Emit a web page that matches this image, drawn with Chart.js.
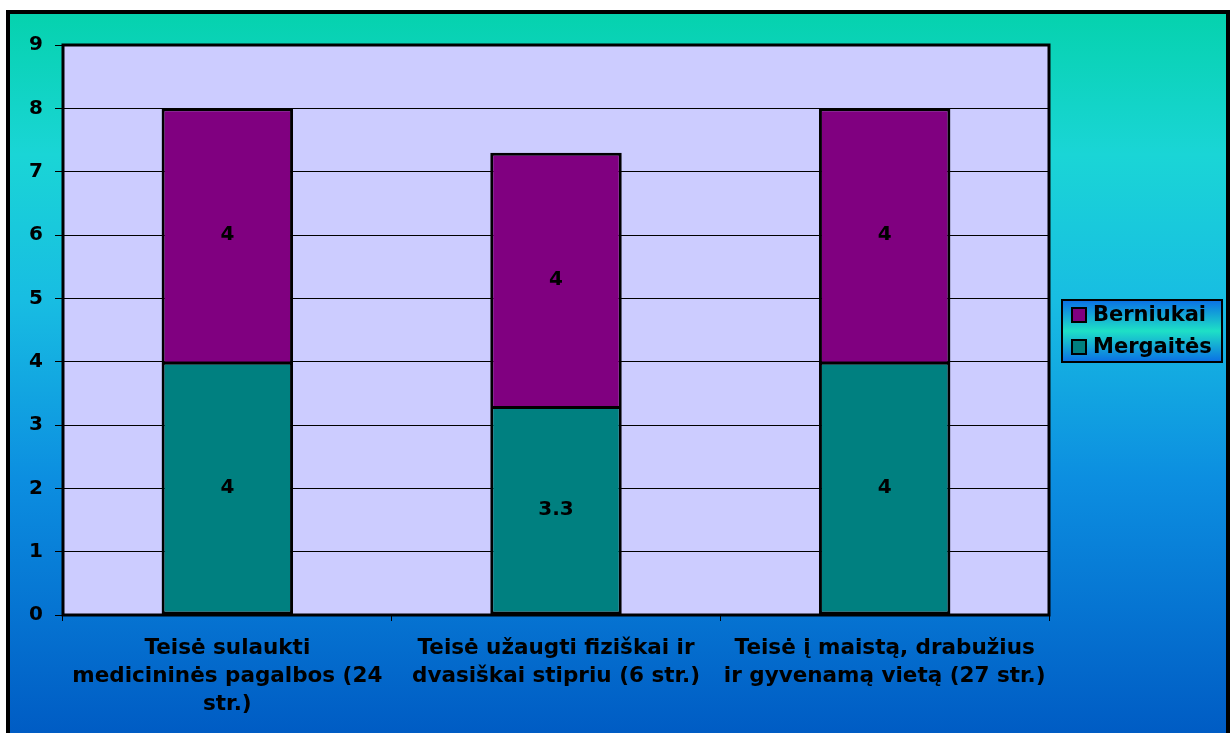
<!DOCTYPE html>
<html lang="lt">
<head>
    <meta charset="UTF-8">
    <title>Teisės</title>
    <script src="https://cdn.jsdelivr.net/npm/chart.js"></script>
    <style>
        html, body { margin: 0; padding: 0; background: #fff; }
        #wrap { position: relative; width: 1232px; height: 733px; }
    </style>
</head>
<body>
    <div id="wrap">
        <canvas id="chart" width="1232" height="733"></canvas>
    </div>

    <script>
        // duomenys
        const categories = [
            ['Teisė sulaukti', 'medicininės pagalbos (24', 'str.)'],
            ['Teisė užaugti fiziškai ir', 'dvasiškai stipriu (6 str.)'],
            ['Teisė į maistą, drabužius', 'ir gyvenamą vietą (27 str.)']
        ];
        const mergaites = [4, 3.3, 4];
        const berniukai = [4, 4, 4];
        const yTicks = [0, 1, 2, 3, 4, 5, 6, 7, 8, 9];

        const FONT = '"DejaVu Sans", sans-serif';

        // fonas, ploto fonas, rėmeliai
        const backgroundPlugin = {
            id: 'bg',
            beforeDraw(chart) {
                const ctx = chart.ctx;
                const a = chart.chartArea;
                ctx.save();
                ctx.fillStyle = '#fff';
                ctx.fillRect(0, 0, chart.width, chart.height);
                const g = ctx.createLinearGradient(0, 10, 0, 733);
                g.addColorStop(0, '#05D2AD');
                g.addColorStop(0.2, '#1AD5D6');
                g.addColorStop(0.4, '#18BDE2');
                g.addColorStop(0.65, '#0C8EE0');
                g.addColorStop(1, '#005CC4');
                ctx.fillStyle = g;
                ctx.fillRect(8, 11, 1220, 730);
                ctx.lineWidth = 4;
                ctx.strokeStyle = '#000';
                ctx.strokeRect(8, 12, 1220, 730);
                ctx.fillStyle = '#CCCCFF';
                ctx.fillRect(a.left, a.top, a.right - a.left, a.bottom - a.top);
                ctx.restore();
            },
            afterDatasetsDraw(chart) {
                const ctx = chart.ctx;
                const a = chart.chartArea;
                ctx.save();
                ctx.lineWidth = 3;
                ctx.strokeStyle = '#000';
                ctx.strokeRect(a.left, a.top, a.right - a.left, a.bottom - a.top);

                // reikšmės stulpelių viduryje
                ctx.font = 'bold 20px ' + FONT;
                ctx.fillStyle = '#000';
                ctx.textAlign = 'center';
                ctx.textBaseline = 'middle';
                chart.data.datasets.forEach((ds, i) => {
                    chart.getDatasetMeta(i).data.forEach((bar, j) => {
                        const y = (bar.y + bar.base) / 2;
                        ctx.fillText(String(ds.data[j]), bar.x, y);
                    });
                });

                // legenda
                const lx = 1062, ly = 300, lw = 160, lh = 62;
                const lg = ctx.createLinearGradient(0, ly, 0, ly + lh);
                lg.addColorStop(0, '#0A6FE6');
                lg.addColorStop(0.5, '#1EE0C6');
                lg.addColorStop(1, '#0A6FE6');
                ctx.fillStyle = lg;
                ctx.fillRect(lx, ly, lw, lh);
                ctx.lineWidth = 2;
                ctx.strokeStyle = '#000';
                ctx.strokeRect(lx, ly, lw, lh);
                const items = [chart.data.datasets[1], chart.data.datasets[0]];
                ctx.textAlign = 'left';
                items.forEach((ds, k) => {
                    const cy = ly + 15 + k * 32;
                    ctx.fillStyle = ds.backgroundColor;
                    ctx.fillRect(lx + 10, cy - 7, 14, 14);
                    ctx.lineWidth = 2;
                    ctx.strokeRect(lx + 10, cy - 7, 14, 14);
                    ctx.fillStyle = '#000';
                    ctx.font = 'bold 21px ' + FONT;
                    ctx.fillText(ds.label, lx + 31, cy + 1);
                });
                ctx.restore();
            }
        };

        const chart = new Chart(document.getElementById('chart'), {
            type: 'bar',
            data: {
                labels: categories,
                datasets: [
                    {
                        label: 'Mergaitės',
                        data: mergaites,
                        backgroundColor: '#008080',
                        borderColor: '#000',
                        borderWidth: 3,
                        borderSkipped: false
                    },
                    {
                        label: 'Berniukai',
                        data: berniukai,
                        backgroundColor: '#800080',
                        borderColor: '#000',
                        borderWidth: 3,
                        borderSkipped: 'start'
                    }
                ]
            },
            options: {
                responsive: false,
                animation: false,
                devicePixelRatio: 1,
                layout: { padding: { left: 0, top: 45, right: 183, bottom: 0 } },
                plugins: {
                    legend: { display: false },
                    tooltip: { enabled: false }
                },
                datasets: { bar: { barPercentage: 1, categoryPercentage: 0.4 } },
                scales: {
                    x: {
                        stacked: true,
                        grid: { drawOnChartArea: false, color: '#000', tickLength: 6 },
                        border: { display: false },
                        ticks: {
                            color: '#000',
                            font: { family: FONT, size: 21.5, weight: 'bold', lineHeight: '28px' },
                            maxRotation: 0,
                            padding: 13
                        },
                        afterFit(s) { s.height = 118; }
                    },
                    y: {
                        stacked: true,
                        min: 0,
                        max: 9,
                        afterBuildTicks(s) { s.ticks = yTicks.map(v => ({ value: v })); },
                        grid: { color: '#000', lineWidth: 1, tickLength: 8 },
                        border: { display: false },
                        ticks: {
                            color: '#000',
                            font: { family: FONT, size: 20, weight: 'bold' },
                            padding: 12
                        },
                        afterFit(s) { s.width = 63; }
                    }
                }
            },
            plugins: [backgroundPlugin]
        });
    </script>
</body>
</html>
